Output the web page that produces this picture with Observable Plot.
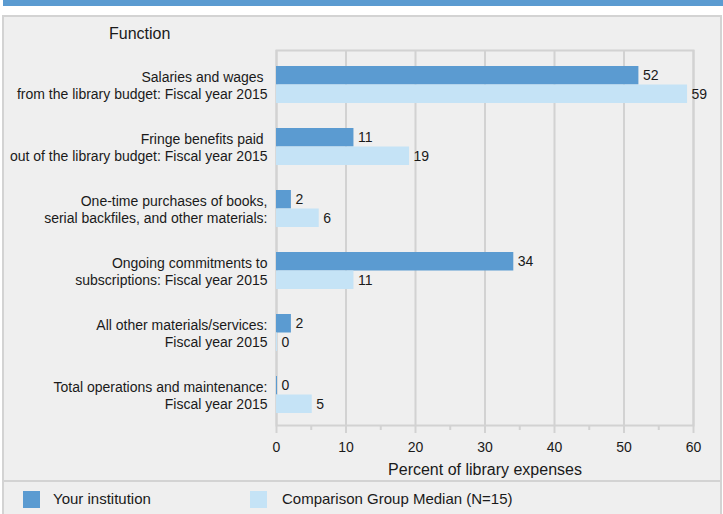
<!DOCTYPE html>
<html>
<head>
<meta charset="utf-8">
<script src="https://cdn.jsdelivr.net/npm/d3@7"></script>
<script src="https://cdn.jsdelivr.net/npm/@observablehq/plot@0.6"></script>
<style>
  html, body { margin: 0; padding: 0; background: #ffffff; }
  body { width: 723px; height: 514px; position: relative; overflow: hidden;
         font-family: "Liberation Sans", Arial, sans-serif; color: #1a1a1a; }
  #band { position: absolute; left: 3px; top: 0; width: 720px; height: 6px; background: #5b9bd1; }
  #panel { position: absolute; left: 2px; top: 15px; width: 720px; height: 520px;
           box-sizing: border-box; border: 2px solid #d3d3d3; background: #efefef; }
  #sep { position: absolute; left: 3px; top: 480px; width: 718px; height: 2px; background: #d3d3d3; }
  #func { position: absolute; left: 109px; top: 25px; font-size: 16px; line-height: 18px; }
  #chart { position: absolute; left: 0; top: 16px; }
  .sw { position: absolute; top: 491px; width: 17px; height: 17px; }
  .lt { position: absolute; top: 490px; font-size: 15px; line-height: 18px; }
</style>
</head>
<body>
<div id="band"></div>
<div id="panel"></div>
<div id="sep"></div>
<div id="func">Function</div>
<div id="chart"></div>
<div class="sw" id="sw1" style="left:23px"></div>
<div class="lt" id="lt1" style="left:53px"></div>
<div class="sw" id="sw2" style="left:250px"></div>
<div class="lt" id="lt2" style="left:282px"></div>
<script>
const categories = [
  "Salaries and wages\u00a0\nfrom the library budget: Fiscal year 2015",
  "Fringe benefits paid\u00a0\nout of the library budget: Fiscal year 2015",
  "One-time purchases of books,\nserial backfiles, and other materials:",
  "Ongoing commitments to\nsubscriptions: Fiscal year 2015",
  "All other materials/services:\nFiscal year 2015",
  "Total operations and maintenance:\nFiscal year 2015"
];
const yourInstitution = [52, 11, 2, 34, 2, 0];
const comparisonMedian = [59, 19, 6, 11, 0, 5];
const seriesNames = ["Your institution", "Comparison Group Median (N=15)"];
const seriesColors = ["#5b9bd1", "#c5e3f6"];
const xTicks = [0, 10, 20, 30, 40, 50, 60];
const xMinorTicks = [5, 15, 25, 35, 45, 55];
const xLabel = "Percent of library expenses";

const yours = categories.map((c, i) => ({category: c, value: yourInstitution[i]}));
const comp = categories.map((c, i) => ({category: c, value: comparisonMedian[i]}));

const half = 18.5;
const gridColor = "#d2d2d2";

const chart = Plot.plot({
  width: 723,
  height: 466,
  marginTop: 34,
  marginBottom: 57,
  marginLeft: 276,
  marginRight: 30,
  style: {background: "transparent", fontFamily: "'Liberation Sans', Arial, sans-serif", fontSize: "14px", color: "#1a1a1a"},
  x: {domain: [0, 60]},
  y: {domain: categories, paddingInner: 0.41, paddingOuter: 0.2, align: 0.55},
  marks: [
    Plot.gridX({ticks: xTicks, stroke: gridColor, strokeOpacity: 1, strokeWidth: 2}),
    Plot.frame({stroke: gridColor, strokeWidth: 2}),
    Plot.axisX({ticks: xTicks, tickSize: 8, tickPadding: 9, fontSize: 14, stroke: gridColor, strokeWidth: 2, label: null, fill: "#1a1a1a"}),
    Plot.axisX({ticks: xMinorTicks, tickSize: 5, tickFormat: () => "", stroke: gridColor, strokeWidth: 2, label: null}),
    Plot.axisY({tickSize: 0, tickPadding: 9, fontSize: 14, lineHeight: 1.21, label: null, fill: "#1a1a1a"}),
    Plot.barX(yours, {x: "value", y: "category", fill: seriesColors[0], insetBottom: half, insetRight: -1}),
    Plot.barX(comp, {x: "value", y: "category", fill: seriesColors[1], insetTop: half, insetRight: -1}),
    Plot.text(yours, {x: "value", y: "category", text: d => String(d.value), dx: 5, dy: -half / 2, textAnchor: "start", fontSize: 14, fill: "#1a1a1a"}),
    Plot.text(comp, {x: "value", y: "category", text: d => String(d.value), dx: 5, dy: half / 2, textAnchor: "start", fontSize: 14, fill: "#1a1a1a"}),
    Plot.text([xLabel], {frameAnchor: "bottom", lineAnchor: "middle", dy: 44, fontSize: 16, fill: "#1a1a1a"})
  ]
});
document.getElementById("chart").appendChild(chart);

document.getElementById("sw1").style.background = seriesColors[0];
document.getElementById("sw2").style.background = seriesColors[1];
document.getElementById("lt1").textContent = seriesNames[0];
document.getElementById("lt2").textContent = seriesNames[1];
</script>
</body>
</html>
